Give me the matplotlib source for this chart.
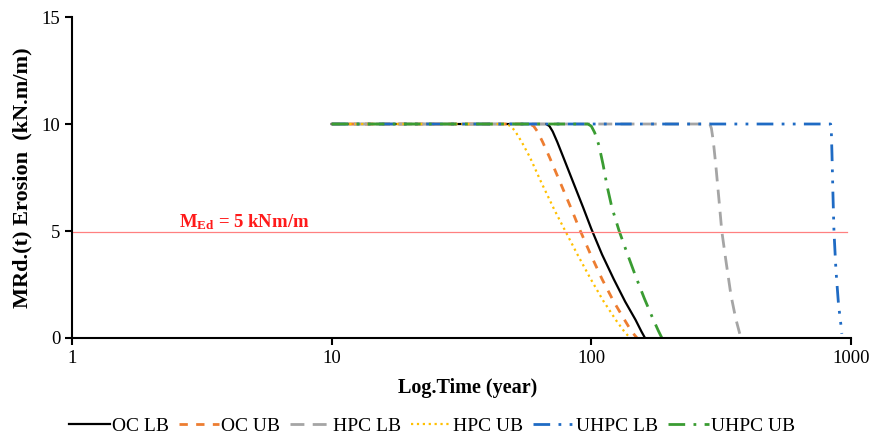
import matplotlib.pyplot as plt
from matplotlib.ticker import NullLocator, FixedLocator, FixedFormatter

plt.rcParams['font.family'] = ['Liberation Serif', 'DejaVu Serif']
plt.rcParams['mathtext.fontset'] = 'custom'
plt.rcParams['mathtext.rm'] = 'Liberation Serif'
plt.rcParams['mathtext.bf'] = 'Liberation Serif:bold'

# Данные
oc_lb_t = [10, 67, 69, 71, 74, 78, 85, 93, 100, 110, 122, 135, 148, 156, 161]
oc_lb_y = [10, 10, 9.9, 9.65, 9.15, 8.45, 7.3, 6.1, 5.1, 3.9, 2.75, 1.7, 0.85, 0.3, 0]

oc_ub_t = [10, 58, 60, 62, 65, 69, 76, 84, 90, 99, 110, 122, 135, 143, 150]
oc_ub_y = [10, 10, 9.9, 9.65, 9.15, 8.45, 7.25, 6.0, 5.1, 3.95, 2.75, 1.7, 0.8, 0.3, 0]

hpc_lb_t = [10, 286, 290, 295, 302, 310, 318, 330, 345, 360, 373]
hpc_lb_y = [10, 10, 9.8, 9.2, 8.0, 6.5, 5.0, 3.6, 2.0, 0.9, 0.2]

hpc_ub_t = [10, 47, 49, 51, 54, 58, 64, 72, 79, 88, 99, 111, 125, 134, 141]
hpc_ub_y = [10, 10, 9.9, 9.65, 9.15, 8.45, 7.3, 6.0, 5.05, 3.95, 2.8, 1.75, 0.8, 0.3, 0]

uhpc_lb_t = [10, 835, 840, 845, 852, 860, 875, 895, 915, 922]
uhpc_lb_y = [10, 10, 9.7, 8.6, 6.8, 5.0, 3.2, 1.6, 0.6, 0.2]

uhpc_ub_t = [10, 97, 100, 103, 107, 111, 115, 120, 128, 137, 148, 160, 172, 181, 187]
uhpc_ub_y = [10, 10, 9.9, 9.6, 9.0, 8.1, 7.1, 6.1, 5.0, 4.0, 2.9, 1.85, 0.95, 0.35, 0]

med_value = 4.95
x_ticks = [1, 10, 100, 1000]
y_ticks = [0, 5, 10, 15]

fig = plt.figure(figsize=(8.71, 4.34), dpi=100)
ax = fig.add_axes([0.0827, 0.2212, 0.8943, 0.7396])

ax.plot(oc_lb_t, oc_lb_y, '-', color='black', linewidth=1.6, label='OC LB')
ax.plot(oc_ub_t, oc_ub_y, '--', color='#ED7D31', linewidth=2,
        dashes=(3, 3), label='OC UB')
ax.plot(hpc_lb_t, hpc_lb_y, '--', color='#A5A5A5', linewidth=2,
        dashes=(5, 3), label='HPC LB')
ax.plot(hpc_ub_t, hpc_ub_y, ':', color='#FFC000', linewidth=1.6,
        label='HPC UB')
ax.plot(uhpc_lb_t, uhpc_lb_y, color='#1F6BC4', linewidth=2,
        dashes=(6, 3, 1, 3, 1, 3), label='UHPC LB')
ax.plot(uhpc_ub_t, uhpc_ub_y, color='#3A9C32', linewidth=2,
        dashes=(6, 3, 1, 3), label='UHPC UB')

ax.axhline(med_value, color='#FF8080', linewidth=0.9, xmax=0.995)
ax.text(4.6, 4.95, r'$\mathbf{M_{Ed}}$ = 5 kNm/m', color='#FF1A1A',
        fontsize=13.5, fontweight='bold', ha='center', va='bottom')

ax.set_xscale('log')
ax.set_xlim(1, 1000)
ax.set_ylim(0, 15)
ax.xaxis.set_major_locator(FixedLocator(x_ticks))
ax.xaxis.set_major_formatter(FixedFormatter([str(t) for t in x_ticks]))
ax.xaxis.set_minor_locator(NullLocator())
ax.set_yticks(y_ticks)

for side in ['top', 'right']:
    ax.spines[side].set_visible(False)
for side in ['left', 'bottom']:
    ax.spines[side].set_linewidth(1.5)
ax.tick_params(axis='both', labelsize=13.5, width=1.5, length=5)

ax.set_xlabel('Log.Time (year)', fontsize=14.5, fontweight='bold')
ax.xaxis.set_label_coords(0.508, -0.125)
ax.set_ylabel('MRd.(t) Erosion  (kN.m/m)', fontsize=16,
              fontweight='bold')
ax.yaxis.set_label_coords(-0.051, 0.5)

ax.legend(loc='center', bbox_to_anchor=(0.462, -0.275), ncol=6,
          frameon=False, fontsize=14, handlelength=2.1, handletextpad=0.1,
          columnspacing=0.5)

fig.savefig('out.png', dpi=100)
